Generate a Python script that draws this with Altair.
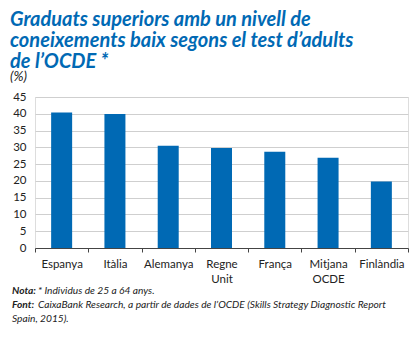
import altair as alt
import pandas as pd

categories = ["Espanya", "Itàlia", "Alemanya", "Regne\nUnit", "França", "Mitjana\nOCDE", "Finlàndia"]
values = [40.4, 39.9, 30.5, 29.8, 28.7, 26.9, 19.8]
y_ticks = [0, 5, 10, 15, 20, 25, 30, 35, 40, 45]

title_lines = ["Graduats superiors amb un nivell de",
               "coneixements baix segons el test d’adults",
               "de l’OCDE *"]
subtitle = "(%)"
note_label = "Nota:"
note_text = "* Individus de 25 a 64 anys."
source_label = "Font:"
source_lines = ["CaixaBank Research, a partir de dades de l’OCDE (Skills Strategy Diagnostic Report",
                "Spain, 2015)."]

df = pd.DataFrame({"cat": categories, "val": values})

BLUE = "#0069B4"
FONT = "Lato"

bars = alt.Chart(df).mark_bar(size=21, color=BLUE).encode(
    x=alt.X("cat:N", sort=categories, title=None,
            scale=alt.Scale(paddingInner=0, paddingOuter=0),
            axis=alt.Axis(labelAngle=0,
                          labelExpr="datum.value ? split(datum.value, '\\n') : ''",
                          tickBand="extent", tickSize=4, tickColor="#444",
                          domainColor="#444", domainWidth=1.2,
                          labelFont=FONT, labelFontSize=11.5, labelColor="#222",
                          labelPadding=6, labelLineHeight=15, grid=False)),
    y=alt.Y("val:Q", title=None,
            scale=alt.Scale(domain=[0, 45], nice=False),
            axis=alt.Axis(values=y_ticks, domain=False, ticks=False, grid=True,
                          gridColor="#CFCFCF", gridWidth=1,
                          labelFont=FONT, labelFontSize=11.5, labelColor="#222",
                          labelPadding=9)),
)

def txt(t, x, y, weight="normal"):
    return alt.Chart(pd.DataFrame({"t": [t]})).mark_text(
        align="left", baseline="alphabetic", font=FONT, fontSize=10.2,
        fontStyle="italic", fontWeight=weight, color="#222"
    ).encode(text="t:N", x=alt.value(x), y=alt.value(y))

notes = (txt(note_label, -23, 197, "bold") + txt(note_text, 3, 197)
         + txt(source_label, -23, 211, "bold") + txt(source_lines[0], 3, 211)
         + txt(source_lines[1], -23, 225))

chart = alt.layer(bars, notes).properties(
    width=373, height=151,
    title=alt.Title(text=title_lines, subtitle=subtitle, anchor="start", frame="group",
                    dx=-25, offset=8, font=FONT, fontSize=20, fontWeight="bold",
                    fontStyle="italic", color=BLUE, lineHeight=21,
                    subtitleFont=FONT, subtitleFontSize=13.5, subtitleFontStyle="italic",
                    subtitleColor="#222", subtitlePadding=-2),
    autosize=alt.AutoSizeParams(type="none"),
    padding={"left": 35, "top": 97, "right": 8, "bottom": 90},
).configure_view(stroke=None).configure(background="white")

chart.save("out.html", embed_options={"renderer": "svg", "actions": False})
